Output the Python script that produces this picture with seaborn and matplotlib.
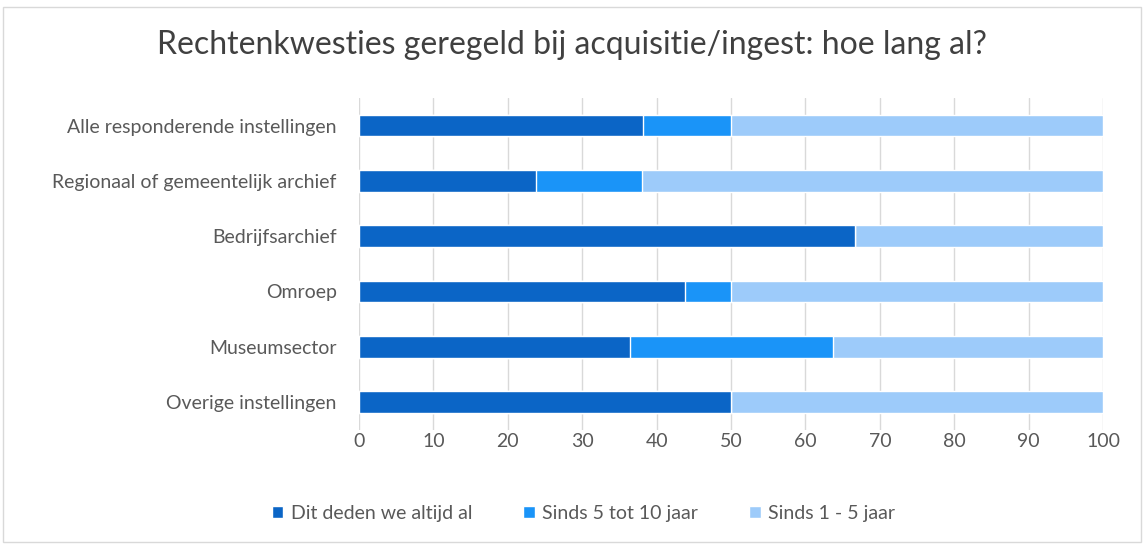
import pandas as pd
import matplotlib.pyplot as plt
import seaborn as sns
from matplotlib.patches import Patch

categorieen = ['Alle responderende instellingen', 'Regionaal of gemeentelijk archief',
               'Bedrijfsarchief', 'Omroep', 'Museumsector', 'Overige instellingen']
altijd_al = [38.2, 23.8, 66.7, 43.75, 36.4, 50.0]
sinds_5_10 = [11.8, 14.3, 0.0, 6.25, 27.3, 0.0]
sinds_1_5 = [50.0, 61.9, 33.3, 50.0, 36.3, 50.0]
reeksen = ['Dit deden we altijd al', 'Sinds 5 tot 10 jaar', 'Sinds 1 - 5 jaar']
kleuren = ['#0b65c6', '#1a94f8', '#9dcbfa']

df = pd.DataFrame({'Instelling': categorieen, 'a': altijd_al, 'b': sinds_5_10, 'c': sinds_1_5})
df['cum_a'] = df['a']
df['cum_b'] = df['a'] + df['b']
df['cum_c'] = df['a'] + df['b'] + df['c']

sns.set_theme(style="white")
plt.rcParams['font.family'] = ['Lato', 'DejaVu Sans']

fig = plt.figure(figsize=(11.44, 5.44), dpi=100)
ax = fig.add_axes([0.3138, 0.21, 0.6504, 0.61])

# stacked bars by overlaying cumulative totals
for col, kleur in zip(['cum_c', 'cum_b', 'cum_a'], kleuren[::-1]):
    sns.barplot(data=df, y='Instelling', x=col, color=kleur, orient='h', width=0.39,
                ax=ax, saturation=1)

ax.set_xlim(0, 100)
ax.set_xticks(range(0, 101, 10))
ax.xaxis.grid(True, color='#d9d9d9', linewidth=1)
ax.set_axisbelow(True)
for s in ax.spines.values():
    s.set_visible(False)
ax.set_xlabel('')
ax.set_ylabel('')
ax.tick_params(axis='both', length=0, labelsize=14, labelcolor='#595959')
ax.tick_params(axis='y', pad=16)
ax.tick_params(axis='x', pad=2)

fig.suptitle('Rechtenkwesties geregeld bij acquisitie/ingest: hoe lang al?',
             fontsize=23, color='#404040', y=0.945)

handles = [Patch(facecolor=k, label=r) for k, r in zip(kleuren, reeksen)]
fig.legend(handles=handles, loc='lower center', bbox_to_anchor=(0.51, 0.008), ncol=3,
           frameon=False, fontsize=14, handlelength=0.6, handleheight=0.6,
           handletextpad=0.4, columnspacing=2.6, labelcolor='#595959')

fig.patches.append(plt.Rectangle((0.003, 0.003), 0.994, 0.985, transform=fig.transFigure,
                                 fill=False, edgecolor='#d9d9d9', linewidth=1))

fig.savefig('out.png', dpi=100)
